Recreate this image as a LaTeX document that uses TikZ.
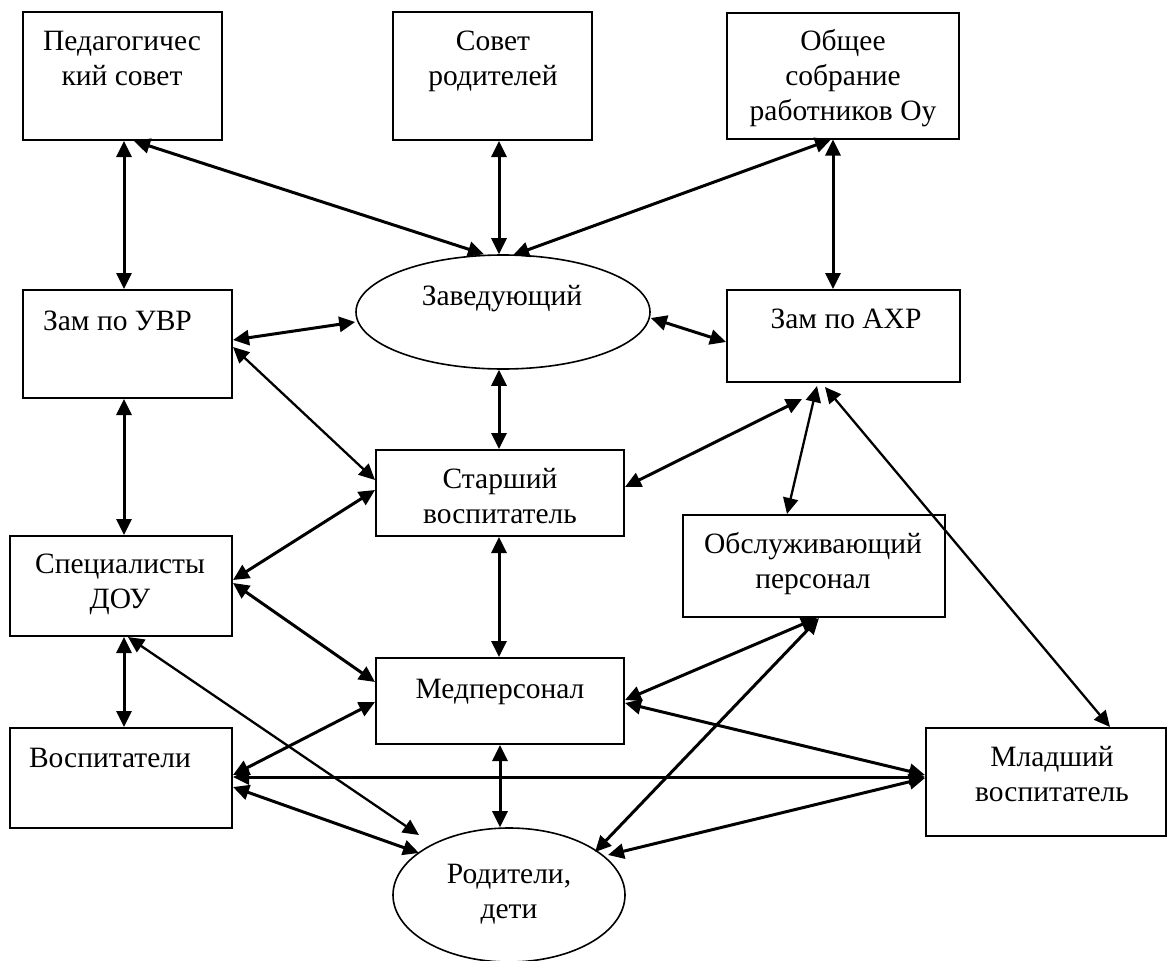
\documentclass[tikz,border=0pt]{standalone}
\usepackage{fontspec}
\setmainfont{Liberation Serif}
\usetikzlibrary{arrows.meta,shapes.geometric}
\begin{document}
\begin{tikzpicture}[x=1pt,y=-1pt,
  box/.style={draw,line width=2pt,rectangle,inner sep=0pt},
  oval/.style={draw,line width=1.6pt,ellipse,inner sep=0pt},
  txt/.style={inner sep=0pt,align=center,anchor=base,font={\fontsize{29.5}{35}\selectfont}},
  con/.style={line width=3pt,{Triangle[length=16pt,width=15pt]}-{Triangle[length=16pt,width=15pt]}},
  con2/.style={con,line width=2.3pt}
]
\useasboundingbox (0,0) rectangle (1168,961);

% boxes
\node[box,minimum width=199pt,minimum height=128pt] (ped)   at (122.5,76) {};
\node[box,minimum width=199pt,minimum height=128pt] (sovet) at (492.5,76) {};
\node[box,minimum width=232pt,minimum height=126pt] (obsh)  at (843,75.5) {};
\node[oval,minimum width=294pt,minimum height=114pt] (zav)  at (503,312) {};
\node[box,minimum width=209pt,minimum height=108pt] (uvr)   at (127.5,344) {};
\node[box,minimum width=233pt,minimum height=92pt]  (ahr)   at (843.5,336) {};
\node[box,minimum width=248pt,minimum height=86pt]  (star)  at (500,493) {};
\node[box,minimum width=222pt,minimum height=100pt] (spec)  at (121,586) {};
\node[box,minimum width=262pt,minimum height=102pt] (obsl)  at (814,566) {};
\node[box,minimum width=248pt,minimum height=86pt]  (med)   at (500,701) {};
\node[box,minimum width=222pt,minimum height=100pt] (vosp)  at (121,778) {};
\node[box,minimum width=240pt,minimum height=108pt] (mlad)  at (1046,782) {};
\node[oval,minimum width=232pt,minimum height=134pt] (rod)  at (509,895) {};

% texts (anchor = baseline of the last line)
\node[txt] (pedT)   at (122,85)  {Педагогичес\\кий совет};
\node[txt] (sovetT) at (493,85)  {Совет\\родителей};
\node[txt] (obshT)  at (843,120) {Общее\\собрание\\работников Оу};
\node[txt] (zavT)   at (502,305) {Заведующий};
\node[txt] (uvrT)   at (117.5,330) {Зам по УВР};
\node[txt] (ahrT)   at (846,328) {Зам по АХР};
\node[txt] (starT)  at (500,523) {Старший\\воспитатель};
\node[txt] (specT)  at (120,608) {Специалисты\\ДОУ};
\node[txt] (obslT)  at (813,588) {Обслуживающий\\персонал};
\node[txt] (medT)   at (500,698) {Медперсонал};
\node[txt] (vospT)  at (110,767) {Воспитатели};
\node[txt] (mladT)  at (1052,801) {Младший\\воспитатель};
\node[txt] (rodT)   at (509,918) {Родители,\\дети};

% connectors
\draw[con] ([xshift=1.5pt]ped.south) -- ([xshift=-3.5pt]uvr.north);
\draw[con] ([xshift=11.5pt]ped.south) -- ([xshift=-19pt]zav.north);
\draw[con] ([xshift=6.5pt]sovet.south) -- ([xshift=-4pt]zav.north);
\draw[con] ([xshift=-12pt]obsh.south) -- ([xshift=10pt,yshift=-1pt]zav.north);
\draw[con] ([xshift=-10pt]obsh.south) -- ([xshift=-10.5pt]ahr.north);
\draw[con] ([yshift=4pt]uvr.east) -- ([yshift=-10pt]zav.west);
\draw[con2] ([yshift=-3pt]uvr.east) -- ([yshift=13pt]star.west);
\draw[con] ([yshift=-6pt]zav.east) -- ([yshift=-6pt]ahr.west);
\draw[con] ([xshift=-4pt]zav.south) -- ([xshift=-1pt]star.north);
\draw[con] ([xshift=-3.5pt]uvr.south) -- ([xshift=3pt]spec.north);
\draw[con] ([yshift=6pt]star.east) -- ([xshift=-41.5pt,yshift=-16pt]ahr.south);
\draw[con2] ([xshift=-26.5pt,yshift=-3pt]ahr.south) -- ([xshift=-27pt]obsl.north);
\draw[con2] ([xshift=-18.5pt,yshift=-4pt]ahr.south) -- ([xshift=64pt]mlad.north);
\draw[con] ([xshift=-1pt]star.south) -- ([xshift=-1pt]med.north);
\draw[con] ([yshift=6pt]spec.east) -- ([yshift=3pt]star.west);
\draw[con] ([yshift=3pt]spec.east) -- ([yshift=19pt]med.west);
\draw[con] ([xshift=3pt]spec.south) -- ([xshift=3pt]vosp.north);
\draw[con2] ([xshift=7pt]spec.south) -- ([xshift=-90pt,yshift=60pt]rod.center);
\draw[con] ([yshift=3pt]vosp.east) -- ([yshift=-1pt]med.west);
\draw[con] ([yshift=1pt]vosp.east) -- ([yshift=5pt]mlad.west);
\draw[con] ([yshift=-9pt]vosp.east) -- ([xshift=-90pt,yshift=42pt]rod.center);
\draw[con] (med.south) -- ([xshift=-9pt]rod.north);
\draw[con] ([xshift=3pt]obsl.south) -- ([yshift=1pt]med.east);
\draw[con] ([yshift=-2pt]med.east) -- ([yshift=7pt]mlad.west);
\draw[con] ([xshift=5pt]obsl.south) -- ([xshift=86pt,yshift=43pt]rod.center);
\draw[con] ([yshift=4pt]mlad.west) -- ([xshift=99pt,yshift=40pt]rod.center);
\end{tikzpicture}
\end{document}
